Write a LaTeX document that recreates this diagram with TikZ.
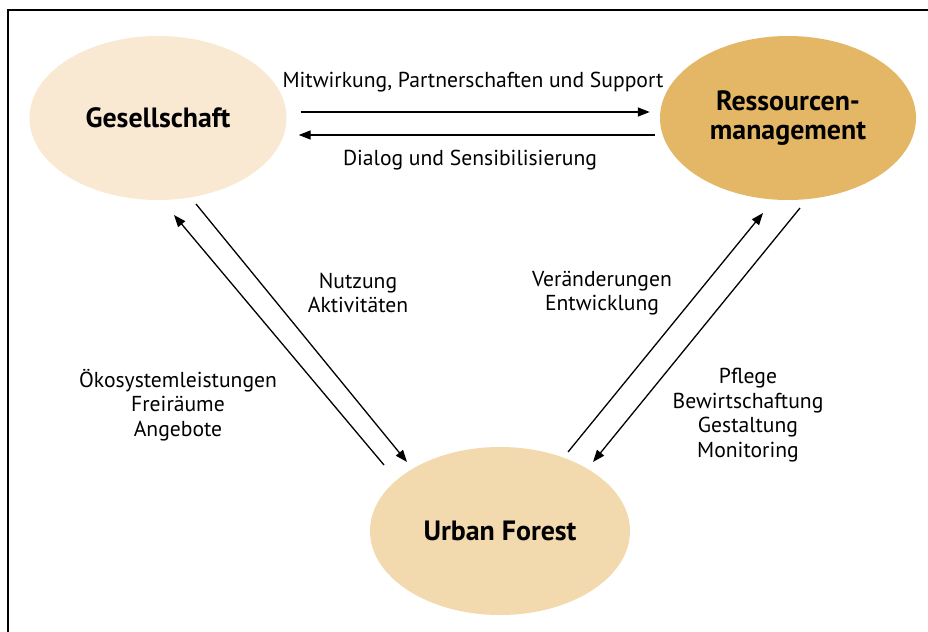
\documentclass[tikz,border=0pt]{standalone}
\usepackage{fontspec}
\setmainfont{PT Sans}
\usepackage{tikz}
\usetikzlibrary{positioning,calc,shapes.geometric,arrows.meta}
\definecolor{gscol}{RGB}{249,233,211}
\definecolor{rmcol}{RGB}{227,183,102}
\definecolor{ufcol}{RGB}{242,217,174}
\tikzset{main node/.style={ellipse,draw=none,inner sep=0pt,align=center,
        font=\fontsize{28}{30}\selectfont\bfseries},
    flow/.style={line width=1.3bp,-{Triangle[length=12bp,width=9bp]}},
    flow label/.style={align=center,inner sep=0pt,font=\fontsize{21.7}{24.6}\selectfont}}

\begin{document}
\begin{tikzpicture}[x=1bp,y=-1bp]
            \useasboundingbox (0,0) rectangle (928,632);
            \draw[line width=1.5bp] (8,640) -- (8,10) -- (940,10);

            \node[main node,fill=gscol,minimum width=257bp,minimum height=164bp] (gs) at (158,118) {Gesellschaft};
            \node[main node,fill=rmcol,minimum width=256bp,minimum height=164bp] (rm) at (788,118) {Ressourcen-\\management};
            \node[main node,fill=ufcol,minimum width=260bp,minimum height=168bp] (uf) at (500,531) {Urban Forest};

            \draw[flow] ($(gs.east)+(14,-6)$) -- ($(rm.west)+(-10,-6)$);
            \draw[flow] ($(rm.west)+(-5,17)$) -- ($(gs.east)+(12,17)$);
            \draw[flow] ($(gs.center)+(38,86)$) -- ($(uf.center)+(-93,-69)$);
            \draw[flow] ($(uf.center)+(-116,-66)$) -- ($(gs.center)+(16,97)$);
            \draw[flow] ($(uf.center)+(68,-79)$) -- ($(rm.center)+(-25,95)$);
            \draw[flow] ($(rm.center)+(12,90)$) -- ($(uf.center)+(93,-69)$);

            \node[flow label] (l1) at (473,82) {Mitwirkung, Partnerschaften und Support};
            \node[flow label] (l2) at (470,160) {Dialog und Sensibilisierung};
            \node[flow label] (l3) at (358,293) {Nutzung\\Aktivitäten};
            \node[flow label] (l4) at (178,405) {Ökosystemleistungen\\Freiräume\\Angebote};
            \node[flow label] (l5) at (602,293) {Veränderungen\\Entwicklung};
            \node[flow label] (l6) at (748,415) {Pflege\\Bewirtschaftung\\Gestaltung\\Monitoring};
        \end{tikzpicture}
\end{document}
